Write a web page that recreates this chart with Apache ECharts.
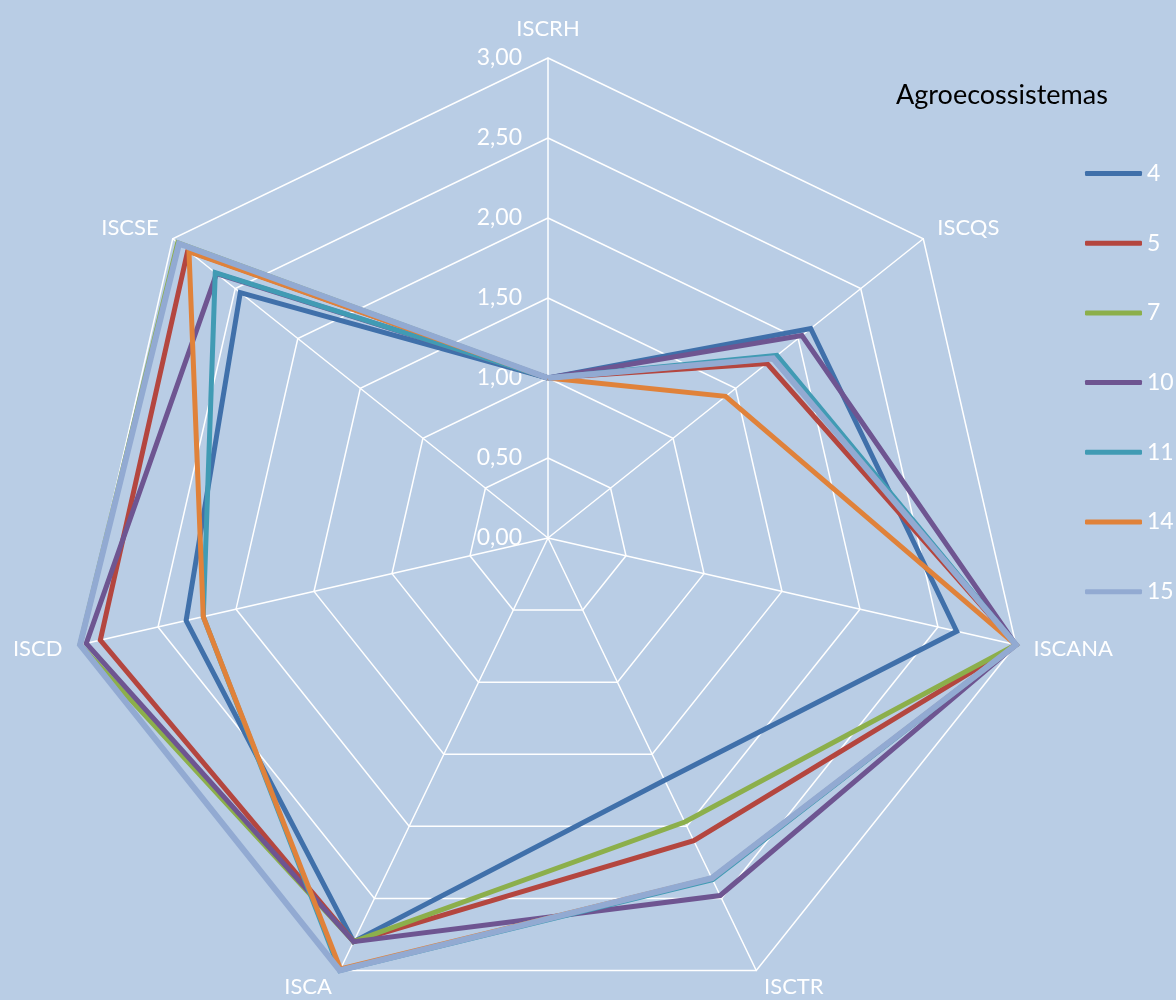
<!DOCTYPE html>
<html>
<head>
<meta charset="utf-8">
<script src="https://cdn.jsdelivr.net/npm/echarts@6/dist/echarts.min.js"></script>
<style>
html,body{margin:0;padding:0;background:#B9CDE5;}
#chart{width:1176px;height:1000px;}
</style>
</head>
<body>
<div id="chart"></div>
<script>
// indicators listed clockwise from the top, as in the reference
const indicators = ['ISCRH', 'ISCQS', 'ISCANA', 'ISCTR', 'ISCA', 'ISCD', 'ISCSE'];
const seriesNames = ['4', '5', '7', '10', '11', '14', '15'];
const s4  = [1.00, 2.10, 2.62, 1.68, 2.80, 2.32, 2.46];
const s5  = [1.00, 1.75, 3.00, 2.10, 2.80, 2.87, 2.88];
const s7  = [1.00, 1.80, 3.00, 1.97, 2.80, 3.00, 2.96];
const s10 = [1.00, 2.03, 3.00, 2.48, 2.80, 2.96, 2.65];
const s11 = [1.00, 1.83, 3.00, 2.37, 3.00, 2.21, 2.66];
const s14 = [1.00, 1.42, 3.00, 2.36, 2.99, 2.21, 2.87];
const s15 = [1.00, 1.80, 3.00, 2.36, 3.00, 3.00, 2.95];
const seriesValues = [s4, s5, s7, s10, s11, s14, s15];
const colors = ['#4070AA', '#B4463F', '#8CAF4B', '#6E5591', '#419BB4', '#E0823A', '#92AAD2'];
const widths = [5, 5, 5, 5, 5, 5, 6];

// ECharts radar runs counter-clockwise; reorder so the axes go clockwise
const order = [0].concat(indicators.slice(1).map((_, i) => indicators.length - 1 - i));
const reorder = arr => order.map(i => arr[i]);

const FONT = 'Lato, "Open Sans", sans-serif';
const chart = echarts.init(document.getElementById('chart'));
chart.setOption({
  backgroundColor: '#B9CDE5',
  animation: false,
  title: {
    text: 'Agroecossistemas',
    left: 891, top: 77,
    textStyle: {color: '#000', fontSize: 27, fontWeight: 'normal', fontFamily: FONT}
  },
  legend: {
    orient: 'vertical',
    left: 1080, top: 157,
    itemWidth: 57, itemHeight: 5,
    itemGap: 46.7,
    icon: 'roundRect',
    data: seriesNames,
    textStyle: {color: '#fff', fontSize: 23, fontFamily: FONT}
  },
  radar: {
    center: [548, 538],
    radius: 480,
    shape: 'polygon',
    splitNumber: 6,
    startAngle: 90,
    nameGap: 18,
    axisName: {color: '#fff', fontSize: 22, fontFamily: FONT},
    indicator: reorder(indicators).map((n, i) => ({
      name: n, min: 0, max: 3,
      axisLabel: i === 0 ? {show: true} : {show: false}
    })),
    axisLabel: {
      show: false,
      margin: 26,
      color: '#fff', fontSize: 23, fontFamily: FONT,
      formatter: v => Number(v).toFixed(2).replace('.', ',')
    },
    axisLine: {lineStyle: {color: '#fff', width: 1.5}},
    splitLine: {lineStyle: {color: '#fff', width: 1.5}},
    splitArea: {show: false}
  },
  series: [{
    type: 'radar',
    symbol: 'none',
    data: seriesValues.map((v, i) => ({
      name: seriesNames[i],
      value: reorder(v),
      itemStyle: {color: colors[i]},
      lineStyle: {color: colors[i], width: widths[i], join: 'miter'}
    }))
  }]
});
</script>
</body>
</html>
